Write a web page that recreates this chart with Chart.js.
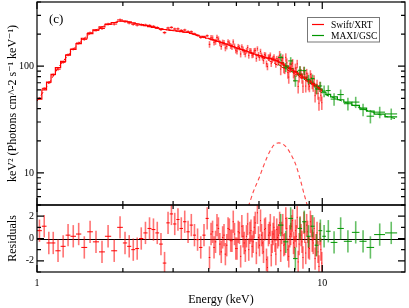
<!DOCTYPE html>
<html lang="en">
<head>
<meta charset="UTF-8">
<title>Spectrum (c)</title>
<script src="https://cdn.jsdelivr.net/npm/chart.js"></script>
<style>
  body { margin: 0; background: #fff; }
  #wrap { position: relative; width: 409px; height: 308px; }
  #wrap canvas { position: absolute; left: 0; top: 0; }
</style>
</head>
<body>
<div id="wrap">
  <canvas id="spec" width="409" height="308"></canvas>
  <canvas id="resid" width="409" height="308"></canvas>
</div>
<script>
// ---- Swift/XRT: bin edges (keV), model, data, error, residuals ----
const xrtEdges = [1.00,1.04,1.08,1.12,1.16,1.21,1.26,1.31,1.37,1.43,1.50,1.57,1.65,1.73,1.82,1.91,
  2.00,2.07,2.14,2.21,2.28,2.36,2.44,2.52,2.60,2.68,2.76,2.84,2.92,3.00,3.08,3.16,3.25,3.34,3.43,3.52,3.61,3.70,3.80,3.90,
  4.00,4.05,4.10,4.15,4.20,4.25,4.30,4.35,4.40,4.45,4.50,4.55,4.60,4.65,4.70,4.75,4.80,4.85,4.90,4.95,
  5.00,5.05,5.10,5.15,5.20,5.25,5.30,5.35,5.40,5.45,5.50,5.55,5.60,5.65,5.70,5.75,5.80,5.85,5.90,5.95,
  6.00,6.05,6.10,6.15,6.20,6.25,6.30,6.35,6.40,6.45,6.50,6.55,6.60,6.65,6.70,6.75,6.80,6.85,6.90,6.95,
  7.00,7.06,7.12,7.18,7.24,7.30,7.36,7.42,7.48,7.54,7.60,7.66,7.72,7.78,7.84,7.90,7.96,8.02,8.08,8.14,8.20,8.265,8.33,
  8.395,8.46,8.525,8.59,8.655,8.72,8.785,8.85,8.915,8.98,9.05,9.12,9.19,9.26,9.33,9.40,9.475,9.55,9.625,9.70,9.775,9.85,9.925,10.0];
const xrtModel = [49,60,71,84,97,111,127,144,163,183,202,219,234,247,257,264,
  265,260,255,250,245,240,235,231,227,224,221,219,217,215,213,211,209,207,203,199,195,191,187,183,
  181,179,178,176,174,172,171,169,167,165,164,162,161,159,158,156,155,153,151,149,
  148,146,146,144,143,141,141,139,139,137,136,134,134,132,132,130,130,128,128,126,
  126,124,125,123,123,121,121,119,120,118,119,117,118,116,116,114,115,113,113,111,
  111,109,108,106,105,103,102,100,99,97,97,95,94,92,92,90,90,88,88,86,85,83,83,
  81,81,79,79,77,77,75,75,73,73,71,71,69,69,67,67,65,65,63,63,61,61,59];
const xrtFlux = [50.0,62.0,70.1,83.0,93.8,108.7,128.1,144.9,165.0,178.6,205.6,217.0,225.6,248.5,248.5,271.9,
  261.8,254.5,247.4,243.3,245.0,243.6,241.3,236.5,230.4,220.6,206.4,228.2,231.3,223.4,223.9,216.7,218.4,210.7,210.3,200.8,194.4,186.4,188.7,192.9,
  160.4,184.6,183.8,167.9,169.7,186.3,179.8,164.6,153.3,167.1,166.1,148.4,153.9,169.2,165.0,155.0,152.0,168.8,153.8,141.4,
  138.5,152.6,149.6,130.2,152.0,143.8,136.4,130.1,139.8,149.5,126.4,139.3,139.0,127.0,128.5,139.4,140.6,118.3,145.7,127.8,
  120.2,137.8,126.4,120.8,112.6,128.2,126.9,105.4,99.2,121.3,121.8,127.1,105.8,114.8,117.9,122.4,112.5,103.8,117.7,112.7,
  113.6,126.9,94.1,112.9,117.7,97.1,95.4,121.0,107.7,87.2,79.1,98.1,97.1,104.3,107.0,87.0,81.2,95.9,88.9,105.2,64.6,79.4,91.0,
  84.7,77.4,65.0,90.0,83.1,65.1,86.0,78.9,67.5,64.9,83.9,78.5,68.5,65.0,74.7,52.9,61.6,67.5,55.6,45.0,64.7,53.4,45.5];
const xrtErr = [1.5,1.8,2.1,2.5,2.9,3.3,3.8,4.3,4.9,5.5,6.1,6.6,7.0,7.4,7.7,7.9,
  8.0,7.8,7.7,7.5,7.4,7.2,7.1,6.9,6.8,6.7,6.6,6.6,6.5,6.5,6.4,6.3,6.3,6.2,6.1,6.0,5.9,5.7,5.6,5.5,
  11.5,11.5,11.3,11.3,11.1,11.1,10.9,10.9,10.6,10.6,10.4,10.4,10.2,10.2,10.0,10.0,9.9,9.9,9.6,9.6,
  9.4,9.4,9.3,9.3,9.1,9.1,9.0,9.0,8.8,8.8,8.6,8.6,8.5,8.5,8.4,8.4,8.3,8.3,8.1,8.1,
  8.0,8.0,7.9,7.9,7.8,7.8,7.7,7.7,7.6,7.6,7.6,7.6,7.5,7.5,7.4,7.4,7.3,7.3,7.2,7.2,
  12.1,12.1,11.8,11.8,11.4,11.4,11.1,11.1,10.8,10.8,10.6,10.6,10.2,10.2,10.0,10.0,9.8,9.8,9.6,9.6,9.2,9.2,9.0,
  9.0,8.8,8.8,8.6,8.6,8.4,8.4,8.1,8.1,7.9,7.9,7.7,7.7,7.5,7.5,7.3,7.3,7.0,7.0,6.8,6.8,6.6,6.6];
const xrtRes = [0.7,1.1,-0.4,-0.4,-1.1,-0.7,0.3,0.2,0.4,-0.8,0.6,-0.3,-1.2,0.2,-1.1,1.0,
  -0.4,-0.7,-1.0,-0.9,0.0,0.5,0.9,0.8,0.5,-0.5,-2.2,1.4,2.2,1.3,1.7,0.9,1.5,0.6,1.2,0.3,-0.1,-0.8,0.3,1.8,
  -1.7,0.4,0.6,-0.8,-0.3,1.2,0.9,-0.5,-1.2,0.1,0.3,-1.4,-0.6,0.9,0.8,-0.2,-0.2,1.5,0.4,-0.9,
  -0.9,0.6,0.5,-1.6,1.1,0.2,-0.4,-1.1,0.2,1.3,-1.0,0.5,0.7,-0.7,-0.3,1.0,1.4,-1.3,2.3,0.1,
  -0.6,1.6,0.3,-0.4,-1.2,0.8,0.9,-1.9,-2.6,0.3,0.5,1.2,-1.5,-0.3,0.4,1.0,-0.2,-1.4,0.8,0.1,
  0.3,1.4,-1.1,0.5,1.2,-0.6,-0.5,1.8,0.9,-1.0,-1.6,0.2,0.4,1.1,1.6,-0.4,-0.8,0.7,0.2,1.9,-2.1,-0.5,1.0,
  0.3,-0.3,-1.7,1.4,0.6,-1.3,1.2,0.6,-0.8,-0.9,1.5,1.1,-0.2,-0.4,0.9,-1.8,-0.6,0.5,-1.2,-2.5,0.4,-1.0,-2.2];

// ---- MAXI/GSC ----
const gscEdges = [7.0,7.3,7.6,7.9,8.2,8.5,8.8,9.1,9.4,9.7,10.0,10.3,10.7,11.3,11.9,12.7,13.5,14.3,15.2,16.6,18.3];
const gscModel = [108,101,95,89,84,79,74,69,65,61,57,54.5,51.5,48.5,46,43,40.5,38,35.5,33.5];
const gscFlux = [121.0,98.0,112.1,73.0,91.6,90.9,75.5,76.6,61.1,65.3,58.5,59.1,49.2,54.2,44.5,46.1,39.2,34.0,37.1,35.7];
const gscErr = [10.8,10.1,9.5,8.9,8.4,7.9,7.4,6.9,6.5,6.1,7.4,7.1,6.7,6.3,6.0,5.6,5.3,4.9,4.6,4.4];
const gscRes = [1.2,-0.3,1.8,-1.8,0.9,1.5,0.2,1.1,-0.6,0.7,0.2,0.65,-0.35,0.9,-0.25,0.55,-0.25,-0.8,0.35,0.5];

// ---- model components (dashed) ----
const xrtContE = [1.0,1.1,1.2,1.3,1.4,1.5,1.6,1.7,1.8,1.9,1.97,2.2,2.5,2.8,3.2,3.6,4.0,4.5,5.0,5.5,6.0,6.5,7.0,7.5,8.0,8.5,9.0,9.5,10.0];
const xrtCont = [47,69,101,131,163,193,217,236,250,260,266,252,234,221,211,197,181,164,149,136,124,113,102,93,85,77,70,64,59];
const gscContE = [7.0,8.0,9.0,10.0,11.0,12.0,13.0,14.0,15.0,16.0,17.0,18.3];
const gscCont = [104,86,70,56,50.5,46,42.5,39.5,37,35,33.5,32];
const gaussE = [5.4,5.53,5.75,6.0,6.2,6.41,6.6,6.76,6.9,7.04,7.2,7.3,7.55,7.8,8.05,8.37,8.6,8.85,9.0];
const gaussY = [4.2,5.0,6.8,8.9,11.3,14.1,16.5,18.2,18.9,19.1,18.9,18.5,16.9,14.6,12.2,8.7,6.6,5.0,4.2];

// ---- axes ----
const xTickVals = [1,2,3,4,5,6,7,8,9,10];
const xLabels = { 1: '1', 10: '10' };
const yTickVals = [5,6,7,8,9,10,20,30,40,50,60,70,80,90,100,200,300,400];
const yLabels = { 10: '10', 100: '100' };
const resTickVals = [-3,-2,-1,0,1,2,3];
const resLabels = { '-2': '-2', 0: '0', 2: '2' };
const legendNames = ['Swift/XRT', 'MAXI/GSC'];

const RED = '#ff0000';
const GREEN = 'rgb(0,150,0)';
const SERIF = '"Liberation Serif", "DejaVu Serif", serif';
Chart.defaults.font.family = SERIF;
Chart.defaults.color = '#000';

function pairs(xs, ys) { return xs.map((x, i) => ({ x: x, y: ys[i] })); }
function stepPoints(edges, vals) {
  return edges.map((e, i) => ({ x: e, y: vals[Math.min(i, vals.length - 1)] }));
}
function fixBox(w, h) {
  return function (s) {
    if (w !== null) s.width = w;
    if (h !== null) s.height = h;
    s.paddingLeft = s.paddingRight = s.paddingTop = s.paddingBottom = 0;
  };
}
function setTicks(vals, majors) {
  return function (s) { s.ticks = vals.map(v => ({ value: v, major: majors.includes(v) })); };
}

// crosses: horizontal bar = bin width, vertical bar = error
function crossPlugin(sets) {
  return {
    id: 'crosses',
    afterDatasetsDraw(chart) {
      const { ctx, chartArea: a, scales: { x, y } } = chart;
      ctx.save();
      ctx.beginPath(); ctx.rect(a.left, a.top, a.width, a.height); ctx.clip();
      sets.forEach(c => {
        c.val.forEach((v, i) => {
          const lo = c.edges[i], hi = c.edges[i + 1];
          const e = Array.isArray(c.err) ? c.err[i] : c.err;
          const xm = x.getPixelForValue((lo + hi) / 2);
          ctx.strokeStyle = c.bar; ctx.lineWidth = 1.6;
          ctx.beginPath();
          ctx.moveTo(xm, y.getPixelForValue(v - e));
          ctx.lineTo(xm, y.getPixelForValue(v + e));
          ctx.stroke();
          ctx.strokeStyle = c.color; ctx.lineWidth = 1;
          const yv = y.getPixelForValue(v);
          ctx.beginPath();
          ctx.moveTo(x.getPixelForValue(lo), yv);
          ctx.lineTo(x.getPixelForValue(hi), yv);
          ctx.stroke();
        });
      });
      ctx.restore();
    }
  };
}

// frame with inward tick marks on all sides
function framePlugin(zeroLine) {
  return {
    id: 'frame',
    beforeDatasetsDraw(chart) {
      if (!zeroLine) return;
      const { ctx, chartArea: a, scales: { y } } = chart;
      const y0 = Math.round(y.getPixelForValue(0)) + 0.5;
      ctx.save();
      ctx.strokeStyle = '#000'; ctx.lineWidth = 1.1;
      ctx.beginPath(); ctx.moveTo(a.left, y0); ctx.lineTo(a.right, y0); ctx.stroke();
      ctx.restore();
    },
    afterDraw(chart) {
      const { ctx, chartArea: a, scales: { x, y } } = chart;
      ctx.save();
      ctx.strokeStyle = '#000'; ctx.lineWidth = 1.2;
      ctx.beginPath();
      x.ticks.forEach(t => {
        const px = x.getPixelForValue(t.value), len = t.major ? 7 : 4;
        ctx.moveTo(px, a.top); ctx.lineTo(px, a.top + len);
        ctx.moveTo(px, a.bottom); ctx.lineTo(px, a.bottom - len);
      });
      y.ticks.forEach(t => {
        const py = y.getPixelForValue(t.value), len = t.major ? 7 : 4;
        ctx.moveTo(a.left, py); ctx.lineTo(a.left + len, py);
        ctx.moveTo(a.right, py); ctx.lineTo(a.right - len, py);
      });
      ctx.stroke();
      ctx.strokeRect(a.left, a.top, a.width, a.height);
      ctx.restore();
    }
  };
}

const notePlugin = {
  id: 'note',
  afterDraw(chart) {
    const ctx = chart.ctx;
    ctx.save();
    ctx.fillStyle = '#000';
    ctx.textBaseline = 'middle';
    ctx.font = '13px ' + SERIF;
    ctx.fillText('(c)', 49, 20);
    // legend box
    ctx.fillStyle = '#fff';
    ctx.fillRect(307.5, 17.5, 72, 24.5);
    ctx.strokeStyle = '#777'; ctx.lineWidth = 1;
    ctx.strokeRect(307.5, 17.5, 72, 24.5);
    const cols = [RED, GREEN], ys = [24.5, 35.5];
    ctx.font = '9.5px ' + SERIF;
    legendNames.forEach((name, i) => {
      ctx.strokeStyle = cols[i]; ctx.lineWidth = 1.2;
      ctx.beginPath(); ctx.moveTo(312, ys[i]); ctx.lineTo(324, ys[i]); ctx.stroke();
      ctx.fillStyle = '#000';
      ctx.fillText(name, 331, ys[i] + 0.5);
    });
    ctx.restore();
  }
};

const noGrid = { display: false, drawTicks: false, tickLength: 0 };

new Chart(document.getElementById('spec'), {
  type: 'line',
  data: {
    datasets: [
      { data: stepPoints(xrtEdges, xrtModel), stepped: true, borderColor: RED, borderWidth: 1.2 },
      { data: pairs(xrtContE, xrtCont), borderColor: RED, borderWidth: 1, borderDash: [4, 3], cubicInterpolationMode: 'monotone' },
      { data: pairs(gaussE, gaussY), borderColor: 'rgba(255,40,40,0.85)', borderWidth: 1.1, borderDash: [4, 3], cubicInterpolationMode: 'monotone' },
      { data: stepPoints(gscEdges, gscModel), stepped: true, borderColor: GREEN, borderWidth: 1.2 },
      { data: pairs(gscContE, gscCont), borderColor: GREEN, borderWidth: 1, borderDash: [4, 3], cubicInterpolationMode: 'monotone' }
    ]
  },
  options: {
    responsive: false,
    animation: false,
    layout: { padding: { left: 0, right: 4, top: 2, bottom: 103 } },
    elements: { point: { radius: 0 }, line: { fill: false } },
    plugins: { legend: { display: false }, tooltip: { enabled: false } },
    scales: {
      x: {
        type: 'logarithmic', min: 1, max: 19.5, display: false,
        afterBuildTicks: setTicks(xTickVals, [1, 10])
      },
      y: {
        type: 'logarithmic', min: 5, max: 400,
        afterFit: fixBox(37, null),
        afterBuildTicks: setTicks(yTickVals, [10, 100]),
        grid: noGrid, border: { display: false },
        ticks: { padding: 3, autoSkip: false, font: { size: 10 }, callback: v => yLabels[v] || '' },
        title: { display: true, text: 'keV² (Photons cm^-2 s⁻¹ keV⁻¹)', font: { size: 12 }, padding: { top: 5.5, bottom: 0 } }
      }
    }
  },
  plugins: [
    crossPlugin([
      { edges: xrtEdges, val: xrtFlux, err: xrtErr, color: RED, bar: 'rgba(255,0,0,0.55)' },
      { edges: gscEdges, val: gscFlux, err: gscErr, color: GREEN, bar: 'rgba(0,150,0,0.6)' }
    ]),
    framePlugin(false),
    notePlugin
  ]
});

new Chart(document.getElementById('resid'), {
  type: 'line',
  data: { datasets: [] },
  options: {
    responsive: false,
    animation: false,
    layout: { padding: { left: 0, right: 4, top: 205, bottom: 0 } },
    plugins: { legend: { display: false }, tooltip: { enabled: false } },
    scales: {
      x: {
        type: 'logarithmic', min: 1, max: 19.5,
        afterFit: fixBox(null, 36),
        afterBuildTicks: setTicks(xTickVals, [1, 10]),
        grid: noGrid, border: { display: false },
        ticks: { padding: 5, autoSkip: false, maxRotation: 0, font: { size: 10 }, callback: v => xLabels[v] || '' },
        title: { display: true, text: 'Energy (keV)', font: { size: 12 }, padding: { top: 0, bottom: 0.8 } }
      },
      y: {
        type: 'linear', min: -3, max: 3,
        afterFit: fixBox(37, null),
        afterBuildTicks: setTicks(resTickVals, [-2, 0, 2]),
        grid: noGrid, border: { display: false },
        ticks: { padding: 3, autoSkip: false, font: { size: 10 }, callback: v => resLabels[v] || '' },
        title: { display: true, text: 'Residuals', font: { size: 12 }, padding: { top: 5.5, bottom: 0 } }
      }
    }
  },
  plugins: [
    crossPlugin([
      { edges: xrtEdges, val: xrtRes, err: 1, color: RED, bar: 'rgba(255,0,0,0.55)' },
      { edges: gscEdges, val: gscRes, err: 1, color: GREEN, bar: 'rgba(0,150,0,0.6)' }
    ]),
    framePlugin(true)
  ]
});
</script>
</body>
</html>
